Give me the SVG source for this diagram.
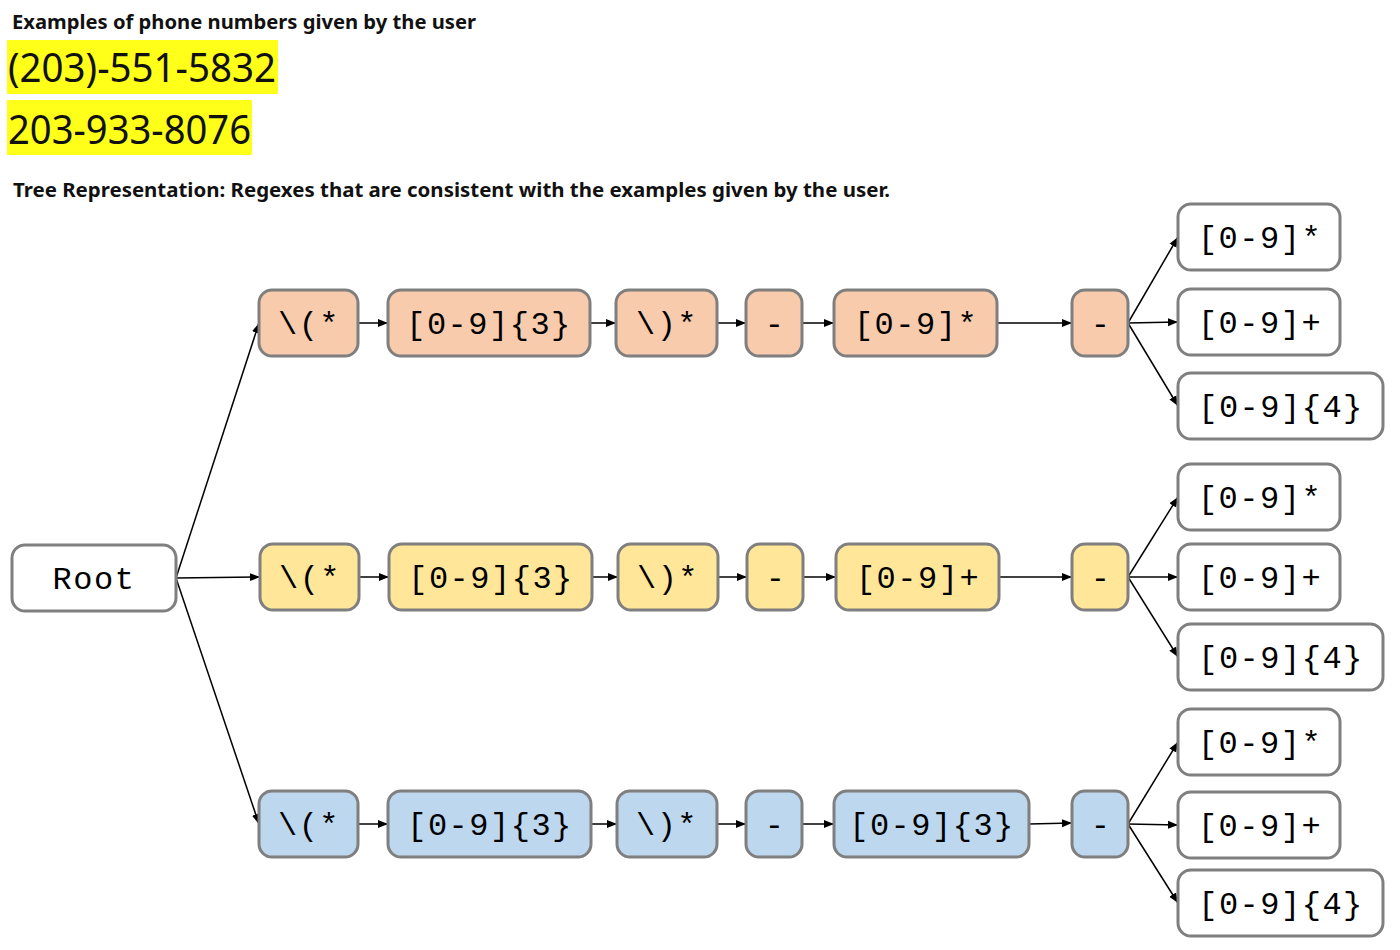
<svg xmlns="http://www.w3.org/2000/svg" width="1400" height="950" viewBox="0 0 1400 950">
<defs>
<marker id="ah" viewBox="0 0 10 10" refX="10" refY="5" markerWidth="10" markerHeight="10" markerUnits="userSpaceOnUse" orient="auto">
<path d="M0,1 L10,5 L0,9 Z" fill="#000"/>
</marker>
<style>
.node{stroke:#7f7f7f;stroke-width:3}
.o{fill:#f8cbad}.y{fill:#ffe699}.b{fill:#bdd7ee}.w{fill:#fff}
.t{font-family:"Liberation Mono","DejaVu Sans Mono",monospace;font-size:32px;fill:#000;text-anchor:middle;letter-spacing:1.5px}
.h{font-family:"Noto Sans","Open Sans",sans-serif;font-weight:bold;font-size:19px;fill:#111}
.p{font-family:"Noto Sans","Open Sans",sans-serif;font-size:40px;fill:#111}
.e{stroke:#000;stroke-width:1.5;fill:none;marker-end:url(#ah)}
</style>
</defs>
<rect width="1400" height="950" fill="#fff"/>
<g id="header">
<text class="h" x="12" y="29" textLength="464" lengthAdjust="spacingAndGlyphs">Examples of phone numbers given by the user</text>
<rect x="7" y="40" width="271" height="54" fill="#ffff1a"/>
<text class="p" x="8" y="82" textLength="268" lengthAdjust="spacingAndGlyphs">(203)-551-5832</text>
<rect x="7" y="100" width="245" height="55" fill="#ffff1a"/>
<text class="p" x="8" y="144" textLength="243" lengthAdjust="spacingAndGlyphs">203-933-8076</text>
<text class="h" x="13" y="197" textLength="877" lengthAdjust="spacingAndGlyphs">Tree Representation: Regexes that are consistent with the examples given by the user.</text>
</g>
<g id="connectors">
<line class="e" x1="176" y1="578" x2="259" y2="323"/>
<line class="e" x1="176" y1="578" x2="260" y2="577"/>
<line class="e" x1="176" y1="578" x2="259" y2="824"/>
<line class="e" x1="358" y1="323" x2="388" y2="323"/>
<line class="e" x1="590" y1="323" x2="616" y2="323"/>
<line class="e" x1="717" y1="323" x2="746" y2="323"/>
<line class="e" x1="802" y1="323" x2="834" y2="323"/>
<line class="e" x1="997" y1="323" x2="1072" y2="323"/>
<line class="e" x1="1128" y1="323" x2="1178" y2="237"/>
<line class="e" x1="1128" y1="323" x2="1178" y2="322"/>
<line class="e" x1="1128" y1="323" x2="1178" y2="406"/>
<line class="e" x1="359" y1="577" x2="389" y2="577"/>
<line class="e" x1="592" y1="577" x2="618" y2="577"/>
<line class="e" x1="718" y1="577" x2="747" y2="577"/>
<line class="e" x1="803" y1="577" x2="836" y2="577"/>
<line class="e" x1="999" y1="577" x2="1072" y2="577"/>
<line class="e" x1="1128" y1="577" x2="1178" y2="497"/>
<line class="e" x1="1128" y1="577" x2="1178" y2="577"/>
<line class="e" x1="1128" y1="577" x2="1178" y2="657"/>
<line class="e" x1="358" y1="824" x2="388" y2="824"/>
<line class="e" x1="591" y1="824" x2="617" y2="824"/>
<line class="e" x1="717" y1="824" x2="746" y2="824"/>
<line class="e" x1="802" y1="824" x2="834" y2="824"/>
<line class="e" x1="1029" y1="824" x2="1072" y2="823"/>
<line class="e" x1="1128" y1="824" x2="1178" y2="742"/>
<line class="e" x1="1128" y1="824" x2="1178" y2="825"/>
<line class="e" x1="1128" y1="824" x2="1178" y2="903"/>
</g>
<g id="root"><rect class="node w" x="12" y="545" width="164" height="66" rx="13"/><text class="t" x="94" y="589">Root</text></g>
<g id="r1n1"><rect class="node o" x="259" y="290" width="99" height="66" rx="13"/><text class="t" x="309" y="334">\(*</text></g>
<g id="r1n2"><rect class="node o" x="388" y="290" width="202" height="66" rx="13"/><text class="t" x="489" y="334">[0-9]{3}</text></g>
<g id="r1n3"><rect class="node o" x="616" y="290" width="101" height="66" rx="13"/><text class="t" x="667" y="334">\)*</text></g>
<g id="r1n4"><rect class="node o" x="746" y="290" width="56" height="66" rx="13"/><text class="t" x="775" y="334">-</text></g>
<g id="r1n5"><rect class="node o" x="834" y="290" width="163" height="66" rx="13"/><text class="t" x="916" y="334">[0-9]*</text></g>
<g id="r1n6"><rect class="node o" x="1072" y="290" width="56" height="66" rx="13"/><text class="t" x="1101" y="334">-</text></g>
<g id="r1l1"><rect class="node w" x="1178" y="204" width="162" height="66" rx="13"/><text class="t" x="1260" y="248">[0-9]*</text></g>
<g id="r1l2"><rect class="node w" x="1178" y="289" width="162" height="66" rx="13"/><text class="t" x="1260" y="333">[0-9]+</text></g>
<g id="r1l3"><rect class="node w" x="1178" y="373" width="205" height="66" rx="13"/><text class="t" x="1281" y="417">[0-9]{4}</text></g>
<g id="r2n1"><rect class="node y" x="260" y="544" width="99" height="66" rx="13"/><text class="t" x="310" y="588">\(*</text></g>
<g id="r2n2"><rect class="node y" x="389" y="544" width="203" height="66" rx="13"/><text class="t" x="491" y="588">[0-9]{3}</text></g>
<g id="r2n3"><rect class="node y" x="618" y="544" width="100" height="66" rx="13"/><text class="t" x="668" y="588">\)*</text></g>
<g id="r2n4"><rect class="node y" x="747" y="544" width="56" height="66" rx="13"/><text class="t" x="776" y="588">-</text></g>
<g id="r2n5"><rect class="node y" x="836" y="544" width="163" height="66" rx="13"/><text class="t" x="918" y="588">[0-9]+</text></g>
<g id="r2n6"><rect class="node y" x="1072" y="544" width="56" height="66" rx="13"/><text class="t" x="1101" y="588">-</text></g>
<g id="r2l1"><rect class="node w" x="1178" y="464" width="162" height="66" rx="13"/><text class="t" x="1260" y="508">[0-9]*</text></g>
<g id="r2l2"><rect class="node w" x="1178" y="544" width="162" height="66" rx="13"/><text class="t" x="1260" y="588">[0-9]+</text></g>
<g id="r2l3"><rect class="node w" x="1178" y="624" width="205" height="66" rx="13"/><text class="t" x="1281" y="668">[0-9]{4}</text></g>
<g id="r3n1"><rect class="node b" x="259" y="791" width="99" height="66" rx="13"/><text class="t" x="309" y="835">\(*</text></g>
<g id="r3n2"><rect class="node b" x="388" y="791" width="203" height="66" rx="13"/><text class="t" x="490" y="835">[0-9]{3}</text></g>
<g id="r3n3"><rect class="node b" x="617" y="791" width="100" height="66" rx="13"/><text class="t" x="667" y="835">\)*</text></g>
<g id="r3n4"><rect class="node b" x="746" y="791" width="56" height="66" rx="13"/><text class="t" x="775" y="835">-</text></g>
<g id="r3n5"><rect class="node b" x="834" y="791" width="195" height="66" rx="13"/><text class="t" x="932" y="835">[0-9]{3}</text></g>
<g id="r3n6"><rect class="node b" x="1072" y="791" width="56" height="66" rx="13"/><text class="t" x="1101" y="835">-</text></g>
<g id="r3l1"><rect class="node w" x="1178" y="709" width="162" height="66" rx="13"/><text class="t" x="1260" y="753">[0-9]*</text></g>
<g id="r3l2"><rect class="node w" x="1178" y="792" width="162" height="66" rx="13"/><text class="t" x="1260" y="836">[0-9]+</text></g>
<g id="r3l3"><rect class="node w" x="1178" y="870" width="205" height="66" rx="13"/><text class="t" x="1281" y="914">[0-9]{4}</text></g>
</svg>
